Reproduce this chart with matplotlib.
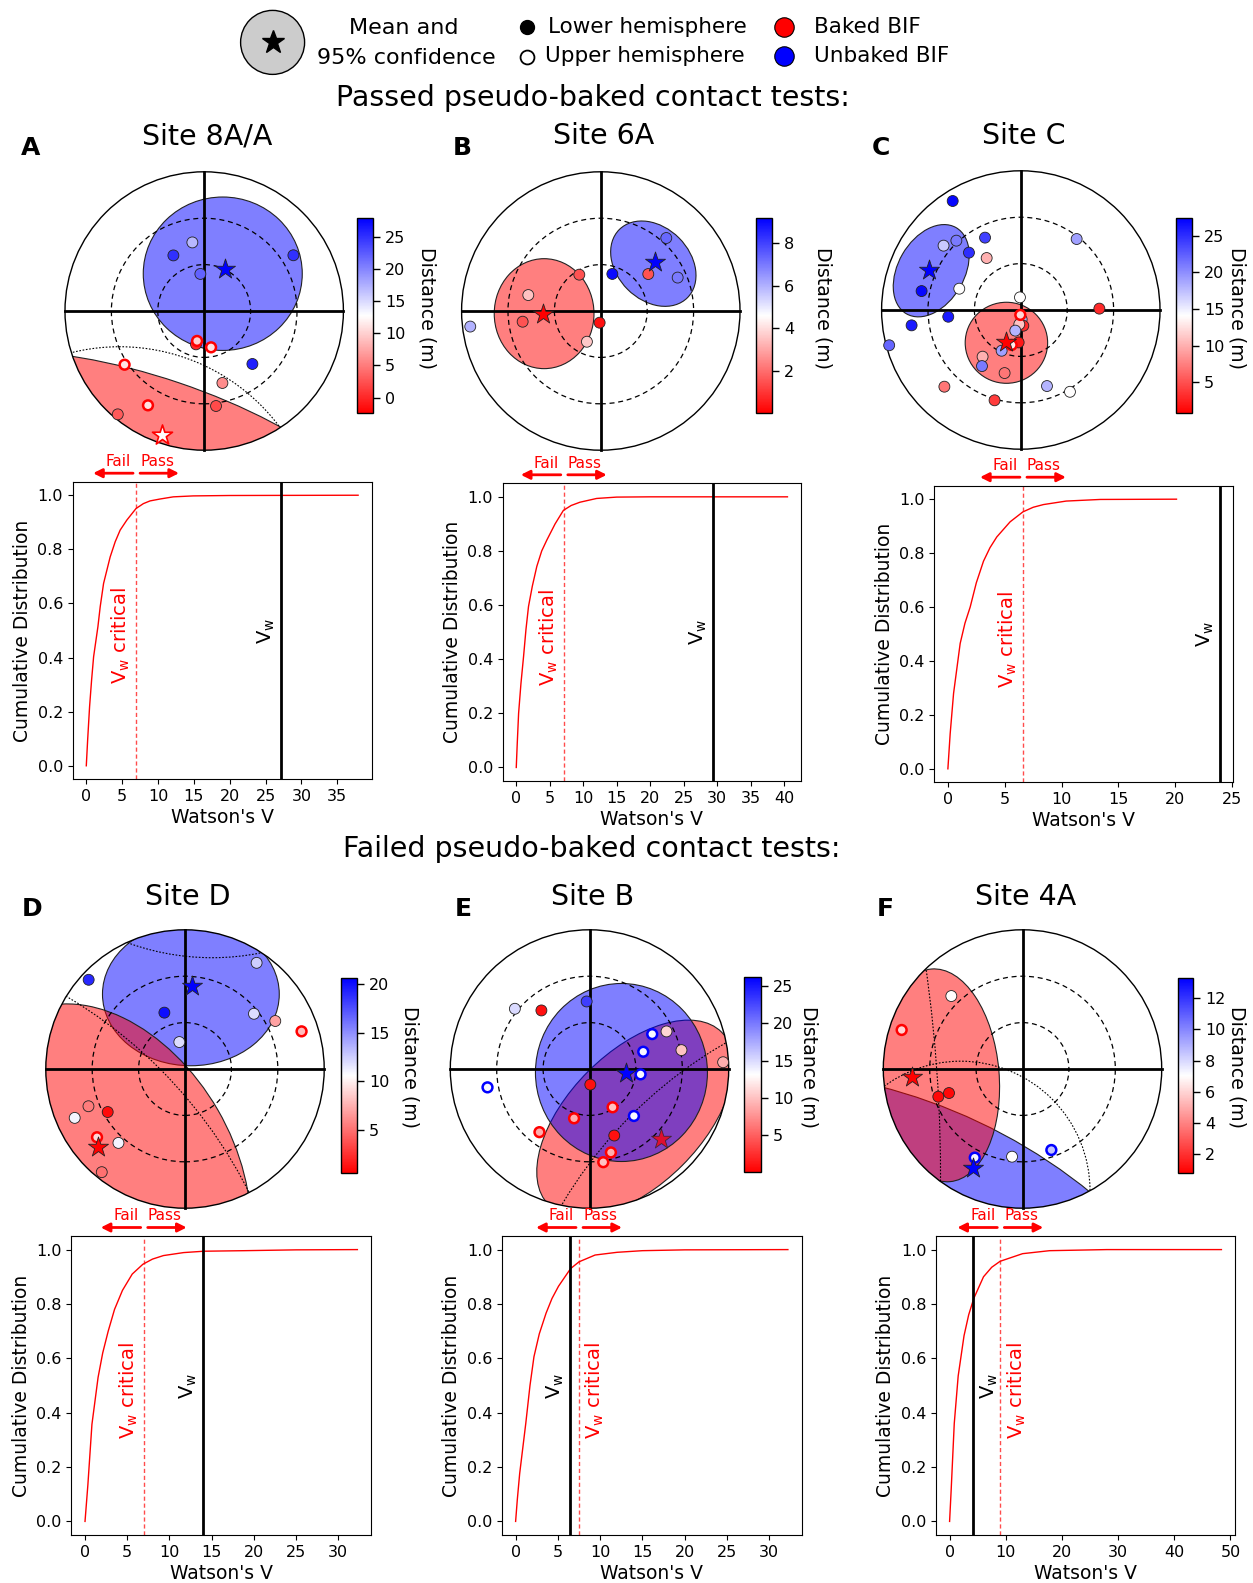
import numpy as np
import matplotlib.pyplot as plt
import matplotlib.transforms as mtransforms
from matplotlib.patches import Circle, Ellipse
from matplotlib.colors import Normalize
from matplotlib.cm import ScalarMappable
from matplotlib.ticker import MultipleLocator

plt.rcParams['font.family'] = 'DejaVu Sans'

# ---------------- site directions (dec, inc; inc < 0 -> upper hemisphere), distance to contact [m]
dec_8a = [331.0, 350.2, 354.1, 58.0, 193.8, 193.4, 169.3, 137.7, 236.0, 165.8, 210.8, 172.9, 219.9]
inc_8a = [48.9, 45.0, 65.9, 22.0, 67.8, -70.1, -66.1, 43.7, -27.9, 42.0, -19.0, 28.1, 2.9]
dist_8a = [25, 17, 22, 25, 0, 10, 11, 26, 11, 6, 11, 2, 3]

dec_6a = [263.2, 282.4, 262.2, 329.4, 185.7, 204.3, 17.3, 52.1, 41.9, 66.5]
inc_6a = [5.0, 42.0, 39.0, 62.7, 82.4, 68.2, 64.9, 51.1, 26.6, 35.8]
dist_6a = [6.0, 3.5, 1.5, 1.5, 0.3, 3.6, 9.0, 1.5, 7.3, 7.0]

dec_c = [328.0, 333.7, 309.8, 317.1, 317.9, 326.7, 280.8, 289.1, 356.2, 38.2, 89.0, 264.7, 262.0,
         255.0, 185.7, 174.9, 170.9, 186.0, 194.9, 183.8, 194.7, 205.2, 219.3, 214.7, 194.4, 224.9,
         196.2, 161.0, 149.0]
inc_c = [6.9, 37.8, 25.0, 28.8, 40.0, 49.8, 24.7, 47.9, 81.8, 31.6, 39.2, 42.9, 18.7,
         1.9, -86.8, 83.9, 79.7, 80.7, 76.2, 69.0, -66.6, 60.9, 51.0, 45.9, 47.9, 20.0,
         29.2, 38.0, 28.3]
dist_c = [27, 24, 17, 21, 25, 10, 27, 14, 14, 19, 3, 26, 26,
          22, 12, 18, 3, 11, 18, 2, 13, 19, 10, 21, 7, 7,
          4, 18, 14]

dec_d = [312.8, 34.0, 339.9, 51.3, 62.0, 72.1, 348.1, 248.9, 240.9, 246.1, 232.2, 222.0, 218.9]
inc_d = [5.1, 7.2, 51.2, 32.9, 23.9, -10.8, 72.2, 23.1, 32.8, 12.0, -18.0, 25.7, 4.3]
dist_d = [19, 12.5, 20, 12, 7, 8, 12, 5.5, 1, 11, 9, 11, 5]

dec_b = [308.9, 320.6, 357.6, 259.8, 60.9, 64.0, 72.2, 78.4, 87.1, 96.0, 177.0, 148.9, 197.4,
         136.6, 218.4, 159.6, 165.6, 171.6]
inc_b = [28.0, 41.0, 46.3, -23.0, -43.6, 34.6, -53.5, 29.3, 3.5, -56.8, 79.9, -61.1, -56.6,
         -48.2, -37.9, 44.1, -34.3, -29.1]
dist_b = [15, 1, 23, 13.5, 13.5, 11, 13.5, 10, 9, 13.5, 1, 10, 9,
          13.5, 9, 1, 9, 10]

dec_4a = [315.7, 287.9, 251.8, 251.9, 208.3, 186.8, 160.4]
inc_4a = [24.1, -7.9, 32.7, 40.0, -24.9, 32.9, -34.4]
dist_4a = [7, 6, 1, 1, 7.3, 7, 8.5]

# site means (dec, inc)
mean_baked = [(198.9, -5.0), (266.7, 52.7), (205.6, 67.3), (228.0, 14.5), (134.5, 25.3), (265.7, 18.6)]
mean_unbaked = [(26.6, 59.9), (47.9, 42.8), (293.5, 25.0), (4.6, 36.4), (96.8, 66.5), (206.6, 18.1)]

# projected 95% confidence regions: east, north, width, height, angle (net degrees)
conf_baked = [(-37.1, -107.7, 339.8, 129.4, -18.7), (-36.65, -1.72, 64.5, 71.1, 0),
              (-9.3, -21.2, 53.3, 52.4, 0), (-47.4, -66.1, 232.5, 158.5, -60),
              (29.5, -32.0, 158.0, 86.0, 45), (-52.9, -4.1, 75.5, 138.0, 5)]
conf_unbaked = [(12.0, 24.1, 102.8, 99.2, 0), (33.96, 30.6, 62.3, 47.0, -45),
                (-57.9, 25.4, 64.3, 42.9, 60), (3.8, 48.4, 114.3, 92.6, 0),
                (20.65, -2.26, 111.2, 115.1, 0), (-179.9, -355.2, 709.8, 709.8, 0)]
# parts of the regions folded back from the other hemisphere
conf_wrap = [[(-54.7, -152.3, 258.4, 258.4, 0)], [], [],
             [(17.6, 231.8, 319.7, 319.7, 0), (-233.8, -217.8, 615.8, 615.8, 0)],
             [(234.9, -237.8, 588.0, 588.0, 0)],
             [(-1002.4, -68.3, 1898.8, 1898.8, 0), (-40.0, -78.6, 167.3, 167.3, 0)]]
baked_on_top = [True, True, True, True, False, True]
mean_under_fill = [False, False, False, False, True, False]

dist_lims = [(-2.4, 27.9), (0.0, 9.2), (0.8, 27.4), (0.6, 20.6), (0.1, 26.2), (0.8, 13.3)]
cbar_ticks = [[0, 5, 10, 15, 20, 25], [2, 4, 6, 8], [5, 10, 15, 20, 25], [5, 10, 15, 20],
              [5, 10, 15, 20, 25], [2, 4, 6, 8, 10, 12]]

# Watson's V simulations (cumulative distribution)
v_x_8a = [0, 0.19, 0.46, 0.74, 1.02, 1.62, 1.94, 2.41, 2.87, 3.33, 4.03, 4.72, 5.65, 6.94, 7.96,
          8.89, 10.28, 12.13, 14.9, 20.0, 37.9]
v_cdf_8a = [0, 0.096, 0.219, 0.317, 0.403, 0.514, 0.588, 0.674, 0.723, 0.772, 0.828, 0.871, 0.908,
            0.951, 0.969, 0.979, 0.986, 0.994, 0.9975, 0.999, 1.0]
v_x_6a = [0, 0.15, 0.35, 0.7, 1.09, 1.45, 1.83, 2.4, 3.07, 3.8, 4.56, 5.8, 7.04, 8.2, 9.5, 12.0,
          15.0, 20.0, 40.5]
v_cdf_6a = [0, 0.09, 0.20, 0.31, 0.41, 0.51, 0.595, 0.67, 0.743, 0.80, 0.84, 0.90, 0.95, 0.968,
            0.98, 0.994, 0.999, 1.0, 1.0]
v_x_c = [0, 0.2, 0.5, 1.08, 1.5, 1.96, 2.5, 3.13, 3.7, 4.3, 5.47, 6.6, 7.5, 8.4, 10.4, 13.4, 20.1]
v_cdf_c = [0, 0.13, 0.28, 0.465, 0.54, 0.60, 0.69, 0.77, 0.82, 0.86, 0.916, 0.953, 0.97, 0.98,
           0.993, 0.999, 1.0]
v_x_d = [0, 0.34, 0.82, 1.55, 2.1, 2.75, 3.5, 4.44, 5.6, 6.86, 8.0, 9.3, 11.7, 14.1, 18.9, 25.0, 32.3]
v_cdf_d = [0, 0.135, 0.357, 0.53, 0.62, 0.70, 0.78, 0.85, 0.91, 0.946, 0.965, 0.978, 0.989, 0.994,
           0.996, 0.999, 1.0]
v_x_b = [0, 0.2, 0.48, 1.2, 1.7, 2.17, 2.8, 3.6, 4.3, 5.07, 6.5, 7.5, 9.4, 12.0, 15.0, 20.0, 32.2]
v_cdf_b = [0, 0.08, 0.176, 0.36, 0.50, 0.606, 0.69, 0.766, 0.82, 0.865, 0.93, 0.955, 0.98, 0.99,
           0.996, 0.999, 1.0]
v_x_4a = [0, 0.28, 0.83, 1.53, 2.57, 3.4, 4.3, 6.04, 7.5, 9.0, 13.0, 17.8, 28.0, 48.4]
v_cdf_4a = [0, 0.115, 0.36, 0.535, 0.683, 0.76, 0.82, 0.90, 0.935, 0.957, 0.985, 0.996, 1.0, 1.0]

v_crit = [6.94, 7.1, 6.6, 6.96, 7.5, 9.03]
v_w = [27.2, 29.4, 23.9, 13.96, 6.4, 4.24]

site_names = ['Site 8A/A', 'Site 6A', 'Site C', 'Site D', 'Site B', 'Site 4A']
letters = ['A', 'B', 'C', 'D', 'E', 'F']

decs = [dec_8a, dec_6a, dec_c, dec_d, dec_b, dec_4a]
incs = [inc_8a, inc_6a, inc_c, inc_d, inc_b, inc_4a]
dists = [dist_8a, dist_6a, dist_c, dist_d, dist_b, dist_4a]
v_xs = [v_x_8a, v_x_6a, v_x_c, v_x_d, v_x_b, v_x_4a]
v_cdfs = [v_cdf_8a, v_cdf_6a, v_cdf_c, v_cdf_d, v_cdf_b, v_cdf_4a]

# ---------------- layout (pixels)
W, H = 1253, 1583
fig = plt.figure(figsize=(W / 100, H / 100), dpi=100)


def px_box(x0, x1, y0, y1):
    return [x0 / W, 1 - y1 / H, (x1 - x0) / W, (y1 - y0) / H]


net_centres = [(204.2, 311), (600.8, 311), (1020.8, 310), (185, 1069), (589.5, 1069), (1022.5, 1069)]
R_PX = 139.2
cbar_boxes = [(357, 373, 218, 413), (756, 772, 218, 413), (1176, 1192, 218, 413),
              (341, 357, 978, 1173), (744, 761, 977, 1172), (1178, 1193, 978, 1173)]
cbar_label_x = [427, 823, 1237, 410, 809, 1237]
cdf_boxes = [(72.7, 371.7, 481.7, 779.3), (502.7, 801, 483.3, 781), (934.3, 1233.3, 485.7, 782.3),
             (71.4, 371, 1236, 1535), (502, 801.5, 1236, 1535), (936, 1235, 1236, 1535)]
letter_x = [21, 453, 872, 22, 455, 877]
x_step = [5, 5, 5, 5, 5, 10]
vw_side = ['left', 'left', 'left', 'left', 'left', 'right']
crit_side = ['left', 'left', 'left', 'left', 'right', 'right']

# overlay in pixel units for legend and headings
ov = fig.add_axes([0, 0, 1, 1], zorder=-1)
ov.set_xlim(0, W)
ov.set_ylim(H, 0)
ov.axis('off')

ov.add_patch(Circle((272.6, 42.4), 32, facecolor='#cccccc', edgecolor='k', lw=1))
ov.plot(272.6, 42.4, marker='*', ms=17, color='k')
ov.text(404, 28, 'Mean and', fontsize=16, ha='center', va='center')
ov.text(406, 58, '95% confidence', fontsize=16, ha='center', va='center')
ov.plot(527, 27, 'o', ms=10, color='k')
ov.plot(527, 56.5, 'o', ms=10, mfc='white', mec='k', mew=1.3)
ov.text(548, 27, 'Lower hemisphere', fontsize=15.5, va='center')
ov.text(545, 56, 'Upper hemisphere', fontsize=15.5, va='center')
ov.plot(783.5, 27.3, 'o', ms=14, mfc='red', mec='k', mew=0.8)
ov.plot(783.5, 55.5, 'o', ms=14, mfc='blue', mec='k', mew=0.8)
ov.text(814, 27, 'Baked BIF', fontsize=15.5, va='center')
ov.text(814, 56, 'Unbaked BIF', fontsize=15.5, va='center')
ov.text(593, 98, 'Passed pseudo-baked contact tests:', fontsize=20.5, ha='center', va='center')
ov.text(592, 849, 'Failed pseudo-baked contact tests:', fontsize=20.5, ha='center', va='center')

cmap = plt.get_cmap('bwr_r')


def project(dec, inc):
    d = np.radians(np.asarray(dec, float))
    r = 90 - np.abs(np.asarray(inc, float))
    return r * np.sin(d), r * np.cos(d)


for i in range(6):
    cx, cy = net_centres[i]
    half = R_PX * 92 / 90
    ax = fig.add_axes(px_box(cx - half, cx + half, cy - half, cy + half))
    ax.set_xlim(-92, 92)
    ax.set_ylim(-92, 92)
    ax.axis('off')

    prim = Circle((0, 0), 90, transform=ax.transData)
    norm = Normalize(*dist_lims[i])
    mid = sum(dist_lims[i]) / 2

    # confidence regions, the last one drawn ends up on top
    groups = [(conf_unbaked[i], mean_unbaked[i], 'blue'), (conf_baked[i], mean_baked[i], 'red')]
    if not baked_on_top[i]:
        groups = groups[::-1]
    for k, ((e, n, w, h, ang), (mdec, minc), col) in enumerate(groups):
        z = 1 + k * 0.1
        ell = Ellipse((e, n), w, h, angle=ang, facecolor=col, alpha=0.5, edgecolor='none', zorder=z)
        ell.set_clip_path(prim)
        ax.add_patch(ell)
        edge = Ellipse((e, n), w, h, angle=ang, fill=False, edgecolor='#222222', lw=0.8, zorder=z + 0.01)
        edge.set_clip_path(prim)
        ax.add_patch(edge)

        # site mean (shaded when it sits beneath the other region)
        mx, my = project([mdec], [minc])
        shade = 0.75 if (mean_under_fill[i] and k == 0) else 1.0
        if minc >= 0:
            ax.scatter(mx, my, marker='*', s=230, c=col, edgecolors='#222222', linewidths=0.6,
                       alpha=shade, zorder=4)
        else:
            ax.scatter(mx, my, marker='*', s=230, c='white', edgecolors=col, linewidths=1.2, zorder=4)

    for (e, n, w, h, ang) in conf_wrap[i]:
        arc = Ellipse((e, n), w, h, angle=ang, fill=False, edgecolor='k', lw=0.8, ls=(0, (1.5, 1.5)), zorder=1.5)
        arc.set_clip_path(prim)
        ax.add_patch(arc)

    # net frame
    ax.add_patch(Circle((0, 0), 90, fill=False, edgecolor='k', lw=1, zorder=2))
    for rr in (30, 60):
        ax.add_patch(Circle((0, 0), rr, fill=False, edgecolor='k', lw=0.9, ls=(0, (4, 3)), zorder=2))
    ax.plot([-90, 90], [0, 0], color='k', lw=2, zorder=2)
    ax.plot([0, 0], [-90, 90], color='k', lw=2, zorder=2)

    # individual directions
    x, y = project(decs[i], incs[i])
    inc_arr = np.asarray(incs[i])
    dist_arr = np.asarray(dists[i], float)
    cols = cmap(norm(dist_arr))
    low = inc_arr >= 0
    ax.scatter(x[low], y[low], s=62, c=cols[low], edgecolors='#222222', linewidths=0.6, zorder=3)
    up = ~low
    ring = ['red' if d < mid else 'blue' for d in dist_arr[up]]
    ax.scatter(x[up], y[up], s=50, c=cols[up], edgecolors=ring, linewidths=1.8, zorder=3)

    # titles
    ty = 136 if i < 3 else 897
    ov.text(cx + 3, ty, site_names[i], fontsize=20.5, ha='center', va='center')
    ov.text(letter_x[i], ty + 12, letters[i], fontsize=18, fontweight='bold', va='center')

    # colour bar
    x0, x1, y0, y1 = cbar_boxes[i]
    cbax = fig.add_axes(px_box(x0, x1, y0, y1))
    cb = fig.colorbar(ScalarMappable(norm=norm, cmap=cmap), cax=cbax)
    cb.set_ticks(cbar_ticks[i])
    cb.ax.tick_params(labelsize=11.5, length=5, width=1)
    cb.outline.set_linewidth(1)
    ov.text(cbar_label_x[i], (y0 + y1) / 2 - 8, 'Distance (m)', rotation=270, fontsize=13.6,
            ha='center', va='center')

    # Watson's V cumulative distribution
    bx0, bx1, by0, by1 = cdf_boxes[i]
    vax = fig.add_axes(px_box(bx0, bx1, by0, by1))
    vax.plot(v_xs[i], v_cdfs[i], color='red', lw=1)
    vax.axvline(v_crit[i], color='red', ls=(0, (3, 2)), lw=1, alpha=0.7)
    vax.axvline(v_w[i], color='k', lw=2)
    vax.xaxis.set_major_locator(MultipleLocator(x_step[i]))
    vax.tick_params(labelsize=11.5)
    vax.set_xlabel("Watson's V", fontsize=13.5, labelpad=3)
    vax.set_ylabel('Cumulative Distribution', fontsize=13.5)

    data_off = lambda dx: mtransforms.offset_copy(vax.transData, fig=fig, x=dx, y=0, units='dots')
    if crit_side[i] == 'left':
        vax.text(v_crit[i], 0.48, r'V$_\mathregular{w}$ critical', transform=data_off(-4), rotation=90,
                 color='red', fontsize=14, ha='right', va='center')
    else:
        vax.text(v_crit[i], 0.48, r'V$_\mathregular{w}$ critical', transform=data_off(5), rotation=90,
                 color='red', fontsize=14, ha='left', va='center')
    if vw_side[i] == 'left':
        vax.text(v_w[i], 0.5, r'V$_\mathregular{w}$', transform=data_off(-4), rotation=90,
                 fontsize=14, ha='right', va='center')
    else:
        vax.text(v_w[i], 0.5, r'V$_\mathregular{w}$', transform=data_off(5), rotation=90,
                 fontsize=14, ha='left', va='center')

    base = mtransforms.blended_transform_factory(vax.transData, vax.transAxes)
    off = lambda dx, dy: mtransforms.offset_copy(base, fig=fig, x=dx, y=dy, units='dots')
    arrow = dict(arrowstyle='-|>', color='red', lw=2, shrinkA=0, shrinkB=0, mutation_scale=13)
    vax.annotate('', xy=(v_crit[i], 1), xycoords=off(-43, 8.5), xytext=(v_crit[i], 1),
                 textcoords=off(-3, 8.5), arrowprops=arrow, annotation_clip=False)
    vax.annotate('', xy=(v_crit[i], 1), xycoords=off(43, 8.5), xytext=(v_crit[i], 1),
                 textcoords=off(4, 8.5), arrowprops=arrow, annotation_clip=False)
    vax.text(v_crit[i], 1, 'Fail', transform=off(-5, 20), color='red', fontsize=11, ha='right', va='center')
    vax.text(v_crit[i], 1, 'Pass', transform=off(4, 20), color='red', fontsize=11, ha='left', va='center')

fig.savefig('out.png', dpi=100)
